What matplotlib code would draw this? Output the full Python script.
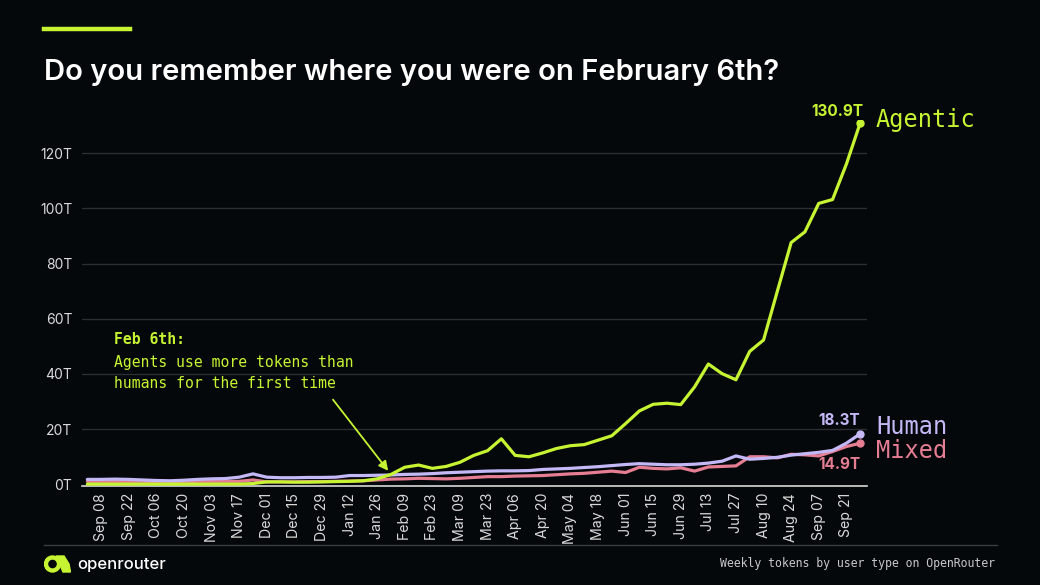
import matplotlib.pyplot as plt
from matplotlib.patches import Circle, Polygon

# weekly token totals (trillions), week of Sep 01 2024 .. Sep 28 2025
weeks = ["Sep 01", "Sep 08", "Sep 15", "Sep 22", "Sep 29", "Oct 06", "Oct 13", "Oct 20",
         "Oct 27", "Nov 03", "Nov 10", "Nov 17", "Nov 24", "Dec 01", "Dec 08", "Dec 15",
         "Dec 22", "Dec 29", "Jan 05", "Jan 12", "Jan 19", "Jan 26", "Feb 02", "Feb 09",
         "Feb 16", "Feb 23", "Mar 02", "Mar 09", "Mar 16", "Mar 23", "Mar 30", "Apr 06",
         "Apr 13", "Apr 20", "Apr 27", "May 04", "May 11", "May 18", "May 25", "Jun 01",
         "Jun 08", "Jun 15", "Jun 22", "Jun 29", "Jul 06", "Jul 13", "Jul 20", "Jul 27",
         "Aug 03", "Aug 10", "Aug 17", "Aug 24", "Aug 31", "Sep 07", "Sep 14", "Sep 21",
         "Sep 28"]

agentic = [0.1, 0.1, 0.1, 0.1, 0.1, 0.1, 0.1, 0.1, 0.1, 0.1, 0.1, 0.1,
           0.3, 0.9, 0.9, 0.8, 0.8, 0.9, 1.0, 1.1, 1.3, 2.0, 3.6, 6.2,
           7.0, 5.8, 6.5, 8.0, 10.5, 12.2, 16.5, 10.5, 10.0, 11.4, 13.0, 14.0,
           14.4, 16.0, 17.6, 22.0, 26.6, 29.0, 29.4, 28.9, 35.3, 43.6, 40.1, 37.9,
           48.2, 52.3, 70.0, 87.6, 91.5, 101.8, 103.2, 116.0, 130.9]

human = [1.8, 1.8, 1.9, 1.8, 1.6, 1.4, 1.3, 1.5, 1.8, 2.0, 2.1, 2.6,
         3.8, 2.6, 2.4, 2.4, 2.5, 2.5, 2.6, 3.2, 3.2, 3.3, 3.4, 3.6,
         3.7, 3.9, 4.2, 4.4, 4.6, 4.8, 4.9, 4.9, 5.0, 5.4, 5.6, 5.8,
         6.1, 6.4, 6.8, 7.2, 7.5, 7.3, 7.1, 7.1, 7.3, 7.7, 8.4, 10.3,
         9.1, 9.4, 9.8, 10.6, 11.1, 11.6, 12.3, 14.9, 18.3]

mixed = [1.1, 1.1, 1.1, 1.1, 1.1, 1.0, 1.0, 1.0, 1.1, 1.1, 1.1, 1.1,
         1.6, 0.9, 0.9, 0.9, 1.0, 1.0, 1.1, 1.2, 1.3, 1.6, 1.9, 2.0,
         2.2, 2.1, 2.0, 2.2, 2.5, 2.8, 2.8, 3.0, 3.1, 3.2, 3.5, 3.8,
         4.0, 4.4, 4.8, 4.3, 6.2, 5.8, 5.6, 6.0, 4.8, 6.3, 6.5, 6.7,
         10.0, 10.0, 9.6, 10.9, 10.7, 10.3, 11.9, 13.7, 14.9]

yticks = [0, 20, 40, 60, 80, 100, 120]

BG = "#05080b"
LIME = "#c6f432"
LAV = "#c4b8f6"
PINK = "#e57d93"
MONO = "DejaVu Sans Mono"
SANS = "Inter"

fig = plt.figure(figsize=(10.4, 5.85), dpi=100, facecolor=BG)
ax = fig.add_axes([0.0787, 0.1692, 0.755, 0.6256], facecolor=BG)

x = list(range(len(weeks)))
ax.plot(x, mixed, color=PINK, lw=2.3, solid_capstyle="round", zorder=3)
ax.plot(x, human, color=LAV, lw=2.3, solid_capstyle="round", zorder=4)
ax.plot(x, agentic, color=LIME, lw=2.3, solid_capstyle="round", zorder=5)
for s, c in [(agentic, LIME), (human, LAV), (mixed, PINK)]:
    ax.plot(x[-1], s[-1], "o", color=c, ms=5, zorder=6)

ax.set_xlim(-0.4, 56.5)
ax.set_ylim(-0.6, 132)
ax.set_yticks(yticks)
ax.set_yticklabels([f"{v}T" for v in yticks], fontname=SANS, fontsize=10, color="#d9d9d9")
ax.set_xticks(x[1::2])
ax.set_xticklabels(weeks[1::2], rotation=90, fontname=SANS, fontsize=10.2, color="#d9d9d9")
ax.tick_params(length=0, pad=5)
ax.tick_params(axis="y", pad=7)
for v in yticks[1:]:
    ax.axhline(v, color="#2b2e32", lw=1, zorder=1)
for sp in ["top", "right", "left"]:
    ax.spines[sp].set_visible(False)
ax.spines["bottom"].set_color("#d8d8d8")
ax.spines["bottom"].set_linewidth(1.2)

# end labels
n = x[-1]
ax.annotate(f"{agentic[-1]}T", (n, agentic[-1]), xytext=(2, 3), textcoords="offset points",
            ha="right", va="bottom", color=LIME, fontname=SANS, fontweight="bold", fontsize=11)
ax.annotate(f"{human[-1]}T", (n, human[-1]), xytext=(0, 4), textcoords="offset points",
            ha="right", va="bottom", color=LAV, fontname=SANS, fontweight="bold", fontsize=11)
ax.annotate(f"{mixed[-1]}T", (n, mixed[-1]), xytext=(0, -10), textcoords="offset points",
            ha="right", va="top", color=PINK, fontname=SANS, fontweight="bold", fontsize=11)
fig.text(876 / 1040, 1 - 120 / 585, "Agentic", color=LIME, fontname=MONO, fontsize=17, va="center")
fig.text(876 / 1040, 1 - 427 / 585, "Human", color=LAV, fontname=MONO, fontsize=17, va="center")
fig.text(876 / 1040, 1 - 451 / 585, "Mixed", color=PINK, fontname=MONO, fontsize=17, va="center")

# Feb 6th callout
fig.text(114 / 1040, 1 - 340 / 585, "Feb 6th:", color=LIME, fontname=MONO, fontweight="bold",
         fontsize=10.6, va="center")
fig.text(114 / 1040, 1 - 362 / 585, "Agents use more tokens than", color=LIME, fontname=MONO,
         fontsize=10.6, va="center")
fig.text(114 / 1040, 1 - 384 / 585, "humans for the first time", color=LIME, fontname=MONO,
         fontsize=10.6, va="center")
ax.annotate("", xy=(21.8, 4.9), xytext=(17.8, 30.7),
            arrowprops=dict(arrowstyle="-|>", color=LIME, lw=1.3, mutation_scale=14,
                            shrinkA=0, shrinkB=0))

# header
fig.add_artist(plt.Line2D([44 / 1040, 130 / 1040], [1 - 28.5 / 585] * 2, color=LIME, lw=3.2))
fig.text(44 / 1040, 1 - 80 / 585, "Do you remember where you were on February 6th?",
         color="white", fontname=SANS, fontweight="semibold", fontsize=21, va="baseline")

# footer
fig.add_artist(plt.Line2D([44 / 1040, 997 / 1040], [1 - 545 / 585] * 2, color="#3a3d42", lw=1))
fig.text(720 / 1040, 1 - 563 / 585, "Weekly tokens by user type on OpenRouter", color="#c8c8c8",
         fontname=MONO, fontsize=8.3, va="center")
fig.text(77 / 1040, 1 - 564 / 585, "openrouter", color="white", fontname=SANS,
         fontweight="medium", fontsize=12, va="center")

# small logo mark
logo = fig.add_axes([44 / 1040, 1 - 573 / 585, 27 / 1040, 18 / 585])
logo.set_xlim(0, 27)
logo.set_ylim(0, 18)
logo.axis("off")
logo.add_patch(Circle((8.5, 9), 8.0, color=LIME))
logo.add_patch(Circle((8.5, 9), 3.6, color=BG))
logo.add_patch(Polygon([[12, 17], [20, 17], [25, 9], [26.5, 1], [19, 1], [16, 8]], color=LIME))

fig.savefig("out.png", dpi=100, facecolor=BG)
